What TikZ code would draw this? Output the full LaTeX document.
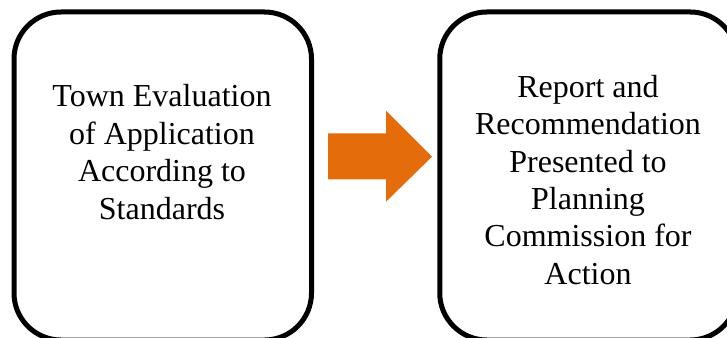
\documentclass[tikz,border=0pt]{standalone}
\usepackage{fontspec}
\setmainfont{Liberation Serif}
\definecolor{arroworange}{HTML}{E46C0A}
\begin{document}
\begin{tikzpicture}[x=1pt,y=-1pt,
  stepbox/.style={draw=black,line width=5pt,rounded corners=47pt,fill=white,
    minimum width=297.5pt,minimum height=328pt,inner sep=0pt},
  boxtext/.style={align=center,inner sep=0pt,font=\fontsize{32}{37.4}\selectfont}]
\useasboundingbox (0,0) rectangle (727,337);
\clip (0,0) rectangle (727,337);
\fill[white] (0,0) rectangle (727,337);
\node[stepbox] (left) at (162.75,176) {};
\node[stepbox] (right) at (588.5,176) {};
\node[boxtext] (lefttext) at (162,152.1) {Town Evaluation\\of Application\\According to\\Standards};
\node[boxtext] (righttext) at (588,179.9) {Report and\\Recommendation\\Presented to\\Planning\\Commission for\\Action};
\fill[arroworange] (328,133.3) -- (386,133.3) -- (386,110.7) -- (432,156.7)
  -- (386,201.7) -- (386,179.3) -- (328,179.3) -- cycle;
\end{tikzpicture}
\end{document}
